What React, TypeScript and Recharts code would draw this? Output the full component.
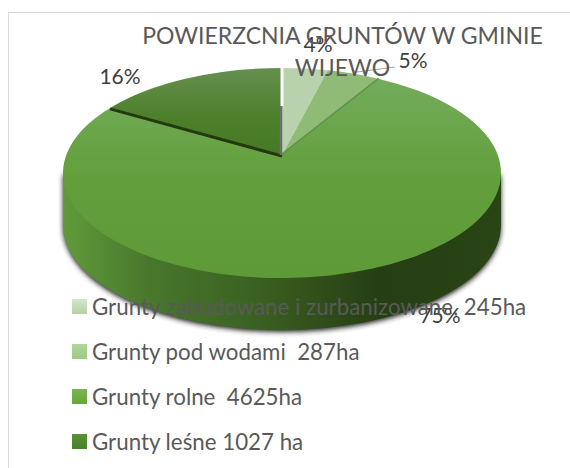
import { PieChart, Pie, Cell, Legend } from 'recharts';

const categories = [
  'Grunty zabudowane i zurbanizowane, 245ha',
  'Grunty pod wodami  287ha',
  'Grunty rolne  4625ha',
  'Grunty leśne 1027 ha',
];
const hectares = [245, 287, 4625, 1027];
const percentLabels = ['4%', '5%', '75%', '16%'];
const titleLines = ['POWIERZCNIA GRUNTÓW W GMINIE', 'WIJEWO'];
const swatchColors = ['url(#sw0)', 'url(#sw1)', 'url(#sw2)', 'url(#sw3)'];
const faceColors = ['#b9d2ae', '#8fbb77', 'url(#faceBig)', 'url(#faceForest)'];

const data = categories.map((name, i) => ({ name, value: hectares[i], label: percentLabels[i] }));

const WIDTH = 570;
const HEIGHT = 468;
const RX = 219;
const RY = 105;
const K = 103; // foreshortening of the rays from the apex
const APEX_DY = -18; // apex sits above the ellipse centre
const DEPTH = 52;
const RAD = Math.PI / 180;

// rim point of the tilted disc for a clockwise angle measured from 12 o'clock
function rim(cx: number, cy: number, clock: number) {
  const dx = RX * Math.sin(clock * RAD);
  const dy = -K * Math.cos(clock * RAD);
  const oy = APEX_DY;
  const a = (dx * dx) / (RX * RX) + (dy * dy) / (RY * RY);
  const b = (2 * oy * dy) / (RY * RY);
  const c = (oy * oy) / (RY * RY) - 1;
  const t = (-b + Math.sqrt(b * b - 4 * a * c)) / (2 * a);
  return { x: cx + t * dx, y: cy + oy + t * dy };
}

function TiltedSlice(props: any) {
  const { cx, cy, startAngle, endAngle, fill, index } = props;
  const from = 90 - startAngle;
  const to = 90 - endAngle;
  const apexX = cx;
  const apexY = cy + APEX_DY;
  const p0 = rim(cx, cy, from);
  const p1 = rim(cx, cy, to);
  const large = to - from > 180 ? 1 : 0;
  const face = `M${apexX},${apexY} L${p0.x},${p0.y} A${RX},${RY} 0 ${large} 1 ${p1.x},${p1.y} Z`;
  const wallPath = `M${cx - RX},${cy} L${cx - RX},${cy + DEPTH} A${RX},${RY} 0 0 0 ${cx + RX},${cy + DEPTH} L${cx + RX},${cy} Z`;

  return (
    <g>
      {index === 2 && (
        <>
          <path d={wallPath} fill="#222222" filter="url(#wallShadow)" transform="translate(0,2)" />
          <path d={wallPath} fill="url(#wall)" />
        </>
      )}
      <path d={face} fill={fill} stroke="none" />
      {index === 1 && (
        <line x1={p1.x} y1={p1.y} x2={apexX} y2={apexY} stroke="#62924a" strokeWidth={3} />
      )}
      {index === 3 && (
        <>
          <line x1={p0.x} y1={p0.y + 1} x2={apexX} y2={apexY + 1} stroke="#24390f" strokeWidth={3} />
          <line x1={apexX - 1} y1={apexY} x2={apexX - 1} y2={apexY - 49} stroke="#6e6e6e" strokeWidth={2.5} />
          <line x1={apexX} y1={apexY - 49} x2={apexX} y2={apexY - 88} stroke="#ffffff" strokeWidth={3} />
        </>
      )}
    </g>
  );
}

const labelAnchors = [
  { x: 318, y: 52 },
  { x: 413, y: 68 },
  { x: 440, y: 323 },
  { x: 120, y: 84 },
];

function renderLabel(props: any) {
  const { index, payload } = props;
  const at = labelAnchors[index];
  return (
    <g>
      {index === 1 && <line x1={357} y1={72} x2={395} y2={67} stroke="#a6a6a6" strokeWidth={1} />}
      <text x={at.x} y={at.y} textAnchor="middle" fontSize={21} fill="#404040" fontFamily="Lato">
        {payload.label}
      </text>
    </g>
  );
}

function LegendRows() {
  return (
    <div style={{ fontFamily: 'Lato', fontSize: 22.3, color: '#595959' }}>
      {categories.map((name, i) => (
        <div key={name} style={{ position: 'absolute', left: 0, top: i * 45, height: 24, whiteSpace: 'pre', lineHeight: '24px' }}>
          <svg width={15} height={15} style={{ position: 'absolute', left: 0, top: 4 }}>
            <rect width={15} height={15} fill={swatchColors[i]} />
          </svg>
          <span style={{ position: 'absolute', left: 20, top: 0 }}>{name}</span>
        </div>
      ))}
    </div>
  );
}

export default function App() {
  return (
    <div style={{ position: 'absolute', left: 0, top: 0, width: WIDTH, height: HEIGHT, background: '#fff', overflow: 'hidden' }}>
      <div style={{ position: 'absolute', left: 8, top: 12, width: 600, height: 600, border: '1.5px solid #d9d9d9' }} />
      <PieChart
        width={WIDTH}
        height={HEIGHT}
        margin={{ top: 0, right: 0, bottom: 0, left: 0 }}
        style={{ position: 'absolute', left: 0, top: 0 }}
      >
        <defs>
          <linearGradient id="faceBig" x1="0" y1="0" x2="0" y2="1">
            <stop offset="0" stopColor="#74ac5c" />
            <stop offset="0.5" stopColor="#629f3b" />
            <stop offset="1" stopColor="#5f9a38" />
          </linearGradient>
          <linearGradient id="faceForest" x1="0" y1="0" x2="0" y2="1">
            <stop offset="0" stopColor="#668f50" />
            <stop offset="0.6" stopColor="#4b7f29" />
            <stop offset="1" stopColor="#477a26" />
          </linearGradient>
          <linearGradient id="wall" x1="0" y1="0" x2="1" y2="0">
            <stop offset="0" stopColor="#609b3a" />
            <stop offset="0.2" stopColor="#48772c" />
            <stop offset="0.45" stopColor="#3a6021" />
            <stop offset="0.72" stopColor="#263e13" />
            <stop offset="1" stopColor="#294415" />
          </linearGradient>
          <linearGradient id="sw0" x1="0" y1="0" x2="0" y2="1">
            <stop offset="0" stopColor="#d3e6ca" />
            <stop offset="1" stopColor="#b5d0a5" />
          </linearGradient>
          <linearGradient id="sw1" x1="0" y1="0" x2="0" y2="1">
            <stop offset="0" stopColor="#b0d79b" />
            <stop offset="1" stopColor="#9ccb82" />
          </linearGradient>
          <linearGradient id="sw2" x1="0" y1="0" x2="0" y2="1">
            <stop offset="0" stopColor="#78b552" />
            <stop offset="1" stopColor="#66a73a" />
          </linearGradient>
          <linearGradient id="sw3" x1="0" y1="0" x2="0" y2="1">
            <stop offset="0" stopColor="#5a9236" />
            <stop offset="1" stopColor="#4a7f27" />
          </linearGradient>
          <filter id="wallShadow" x="-5%" y="-5%" width="110%" height="115%">
            <feGaussianBlur stdDeviation="2.5" />
          </filter>
        </defs>
        <Pie
          data={data}
          dataKey="value"
          nameKey="name"
          cx={282}
          cy={173}
          outerRadius={RX}
          startAngle={90}
          endAngle={-270}
          paddingAngle={0}
          stroke="none"
          shape={TiltedSlice}
          label={renderLabel}
          labelLine={false}
          isAnimationActive={false}
        >
          {data.map((d, i) => (
            <Cell key={d.name} fill={faceColors[i]} />
          ))}
        </Pie>
        <Legend
          content={<LegendRows />}
          wrapperStyle={{ position: 'absolute', left: 72, top: 295, width: 480, height: 160, bottom: 'auto' }}
        />
      </PieChart>
      {/* title sits above the pie, as a separate layer since the chart paints series over its own svg children */}
      <svg width={WIDTH} height={100} style={{ position: 'absolute', left: 0, top: 0, pointerEvents: 'none' }}>
        {titleLines.map((line, i) => (
          <text key={line} x={342.5} y={44 + i * 32} textAnchor="middle" fontSize={23} fill="#595959" fontFamily="Lato">
            {line}
          </text>
        ))}
      </svg>
    </div>
  );
}
